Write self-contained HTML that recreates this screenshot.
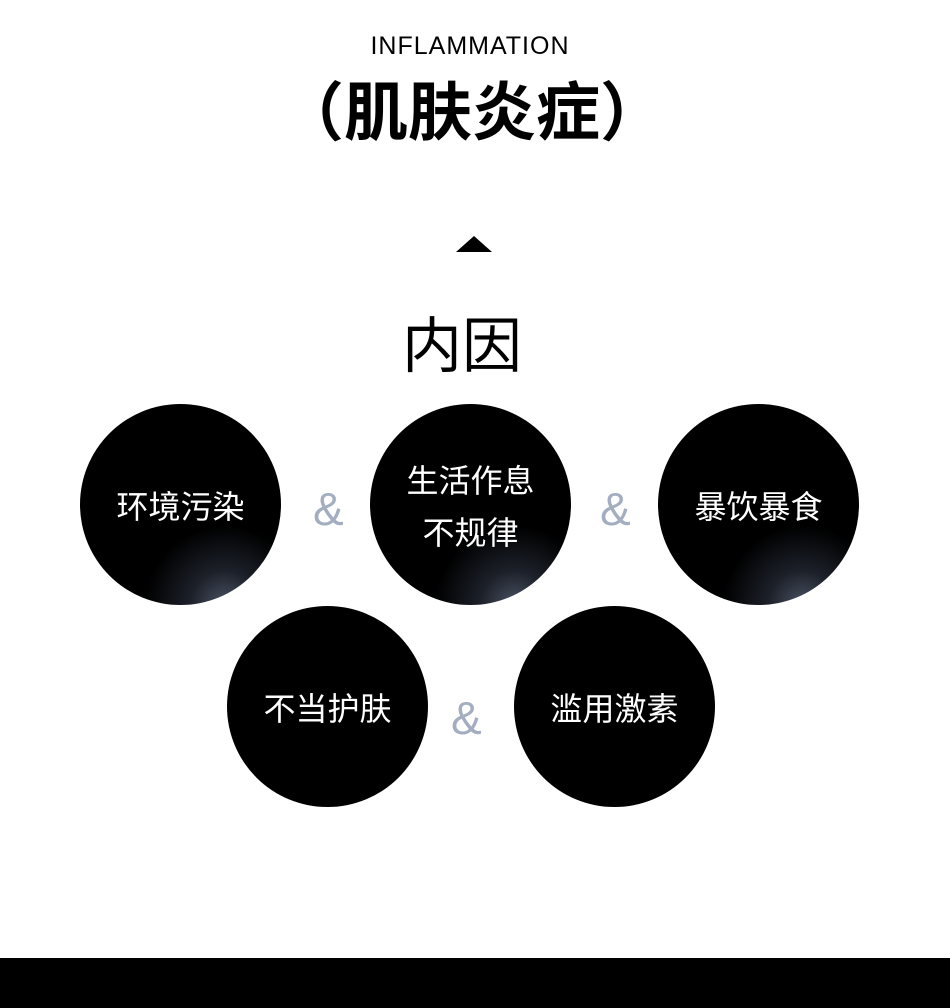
<!DOCTYPE html>
<html><head><meta charset="utf-8"><style>
body{margin:0;width:950px;height:1008px;background:#fff;position:relative;overflow:hidden;font-family:"Liberation Sans","Noto Sans CJK SC",sans-serif}
.t{position:absolute;left:0;width:950px;text-align:center;color:#000}
.c{position:absolute;width:201px;height:201px;border-radius:50%;background:#000;color:#fff;display:flex;align-items:center;justify-content:center;text-align:center;font-size:32px;line-height:52px;font-weight:400;font-family:"Noto Sans CJK SC",sans-serif}
.g{background:radial-gradient(circle at 72% 100%,#4a5363 0%,#1c2029 14%,#000 32%)}
.a{position:absolute;color:#a3aec0;font-size:46px;font-family:"Liberation Sans",sans-serif}
</style></head><body>
<div class="t" style="top:32px;font-size:25px;left:-5px;letter-spacing:1px">INFLAMMATION</div>
<div class="t" style="top:62px;font-size:64px;font-weight:bold;left:-3px;font-family:'Noto Sans CJK SC',sans-serif">（肌肤炎症）</div>
<div style="position:absolute;left:456px;top:236px;width:0;height:0;border-left:18px solid transparent;border-right:18px solid transparent;border-bottom:16px solid #000"></div>
<div class="t" style="top:298px;font-size:60px;left:-13px;font-family:'Noto Sans CJK SC',sans-serif;font-weight:400">内因</div>
<div class="c g" style="left:80px;top:404px">环境污染</div>
<div class="c g" style="left:370px;top:404px">生活作息<br>不规律</div>
<div class="c g" style="left:658px;top:404px">暴饮暴食</div>
<div class="c" style="left:227px;top:606px">不当护肤</div>
<div class="c" style="left:514px;top:606px">滥用激素</div>
<div class="a" style="left:313px;top:482px">&amp;</div>
<div class="a" style="left:600px;top:482px">&amp;</div>
<div class="a" style="left:451px;top:691px">&amp;</div>
<div style="position:absolute;left:0;top:958px;width:950px;height:50px;background:#000"></div>
</body></html>
